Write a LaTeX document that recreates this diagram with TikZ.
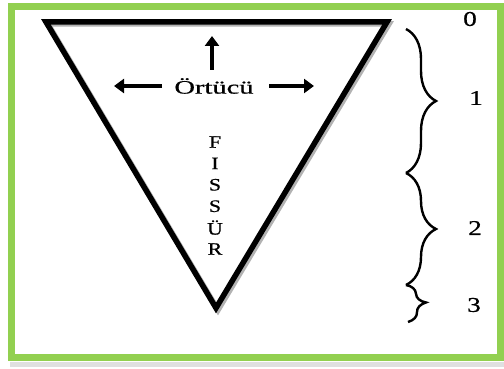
\documentclass[tikz,border=0pt]{standalone}
\usepackage{fontspec}
\setmainfont{Liberation Serif}
\newfontfamily\boldish[FakeBold=0.6]{Liberation Serif}
\usetikzlibrary{arrows.meta,decorations.pathreplacing}
\definecolor{framegreen}{HTML}{92D050}
\newcommand{\wide}[2]{\scalebox{#1}[1]{#2}}
\begin{document}
\begin{tikzpicture}[x=1pt,y=-1pt,
  fat/.style={line width=4.5pt,-{Triangle[length=10pt,width=14pt]}},
  tri/.style={line width=5.5pt,line join=miter},
  br/.style={decorate,decoration={brace,amplitude=#1},line width=2.4pt},
  lab/.style={font=\boldish\fontsize{21}{21}\selectfont,inner sep=0pt},
  letter/.style={font=\boldish\fontsize{17.5}{17.5}\selectfont,inner sep=0pt}]
\useasboundingbox (0,0) rectangle (504,369);
\fill[white] (0,0) rectangle (504,369);
\fill[black!12] (10,362) rectangle (504,367);
\draw[framegreen,line width=7pt] (11.5,6.5) rectangle (500.5,357.5);
% triangle shadow and triangle
\coordinate (tl) at (46,22);
\coordinate (tr) at (387,22);
\coordinate (bt) at (216,308);
\begin{scope}[shift={(2,2)}]
\draw[tri,black!30] (46,22) -- (387,22) -- (216,308) -- cycle;
\end{scope}
\draw[tri] (tl) -- (tr) -- (bt) -- cycle;
% Örtücü with arrows
\node[font=\boldish\fontsize{19}{19}\selectfont,inner sep=0pt] (ort) at (214,86) {\wide{1.5}{Örtücü}};
\coordinate (upS) at (212,70);
\coordinate (upE) at (212,36);
\coordinate (lS) at (162,86);
\coordinate (lE) at (114,86);
\coordinate (rS) at (269,86);
\coordinate (rE) at (314,86);
\draw[fat] (upS) -- (upE);
\draw[fat] (lS) -- (lE);
\draw[fat] (rS) -- (rE);
% FISSÜR
\foreach \l [count=\i] in {F,I,S,S,Ü,R}
  \node[letter] (f\i) at (215,{142+21.4*(\i-1)}) {\wide{1.25}{\l}};
% braces
\coordinate (b0) at (406,29);
\coordinate (b1) at (406,173);
\coordinate (b2) at (406,285);
\coordinate (b3) at (408,322);
\draw[br=30pt] (b0) -- (b1);
\draw[br=30pt] (b1) -- (b2);
\draw[br=19pt] (b2) -- (b3);
% labels
\node[lab] (l0) at (470,19) {\wide{1.3}{0}};
\node[lab] (l1) at (476,98) {\wide{1.3}{1}};
\node[lab] (l2) at (475,228) {\wide{1.3}{2}};
\node[lab] (l3) at (474,305) {\wide{1.3}{3}};
\end{tikzpicture}
\end{document}
